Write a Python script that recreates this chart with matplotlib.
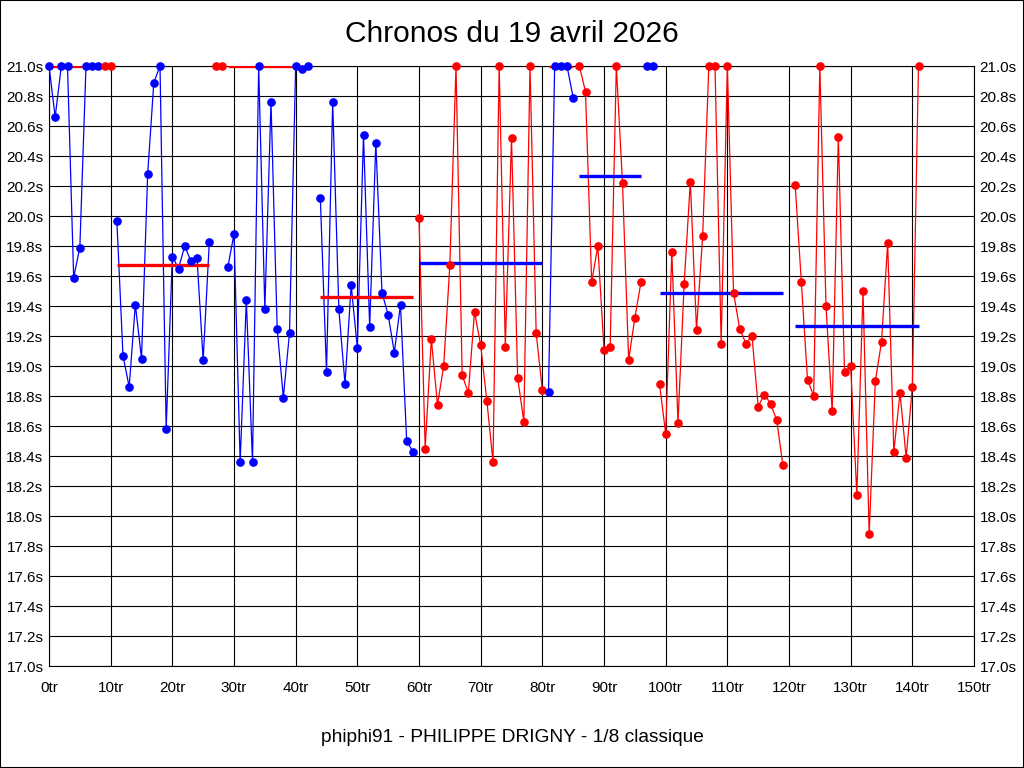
import matplotlib
matplotlib.use("Agg")
import matplotlib.pyplot as plt
from matplotlib.patches import Rectangle

plt.rcParams['font.family'] = ['Liberation Sans', 'DejaVu Sans']

title = "Chronos du 19 avril 2026"
footer = "phiphi91 - PHILIPPE DRIGNY - 1/8 classique"

# lap times in seconds, index = lap number (None = no time); 21.0 = capped
times = [
    21.0, 20.66, 21.0, 21.0, 19.59, 19.79, 21.0, 21.0, 21.0, 21.0,
    21.0, 19.97, 19.07, 18.86, 19.41, 19.05, 20.28, 20.89, 21.0, 18.58,
    19.73, 19.65, 19.80, 19.70, 19.72, 19.04, 19.83, 21.0, 21.0, 19.66,
    19.88, 18.36, 19.44, 18.36, 21.0, 19.38, 20.76, 19.25, 18.79, 19.22,
    21.0, 20.98, 21.0, None, 20.12, 18.96, 20.76, 19.38, 18.88, 19.54,
    19.12, 20.54, 19.26, 20.49, 19.49, 19.34, 19.09, 19.41, 18.50, 18.43,
    19.99, 18.45, 19.18, 18.74, 19.00, 19.67, 21.0, 18.94, 18.82, 19.36,
    19.14, 18.77, 18.36, 21.0, 19.13, 20.52, 18.92, 18.63, 21.0, 19.22,
    18.84, 18.83, 21.0, 21.0, 21.0, 20.79, 21.0, 20.83, 19.56, 19.80,
    19.11, 19.13, 21.0, 20.22, 19.04, 19.32, 19.56, 21.0, 21.0, 18.88,
    18.55, 19.76, 18.62, 19.55, 20.23, 19.24, 19.87, 21.0, 21.0, 19.15,
    21.0, 19.49, 19.25, 19.15, 19.20, 18.73, 18.81, 18.75, 18.64, 18.34,
    None, 20.21, 19.56, 18.91, 18.80, 21.0, 19.40, 18.70, 20.53, 18.96,
    19.00, 18.14, 19.50, 17.88, 18.90, 19.16, 19.82, 18.43, 18.82, 18.39,
    18.86, 21.0,
]

# runs (first lap, last lap), colour and mean time
seg_start = [0, 9, 11, 27, 29, 44, 60, 81, 86, 97, 99, 121]
seg_end = [8, 10, 26, 28, 42, 59, 80, 85, 96, 98, 119, 141]
seg_color = ['blue', 'red', 'blue', 'red', 'blue', 'blue',
             'red', 'blue', 'red', 'blue', 'red', 'red']
seg_avg = [21.0, 21.0, 19.67, 21.0, 21.0, 19.46,
           19.69, 21.0, 20.27, 21.0, 19.49, 19.27]

fig = plt.figure(figsize=(10.24, 7.68), dpi=100)
fig.patch.set_facecolor('white')
ax = fig.add_axes([49/1024, 1 - 666/768, 925/1024, 600/768])

for s, e, c, m in zip(seg_start, seg_end, seg_color, seg_avg):
    laps = list(range(s, e + 1))
    vals = [times[i] for i in laps]
    other = 'red' if c == 'blue' else 'blue'
    ax.plot(laps, vals, color=c, lw=0.9, zorder=3, clip_on=False)
    ax.hlines(m, s, e, color=other, lw=2.4, zorder=4)
    ax.plot(laps, vals, 'o', color=c, ms=5.2, zorder=5, clip_on=False)

ax.set_xlim(0, 150)
ax.set_ylim(17.0, 21.0)
xt = list(range(0, 151, 10))
yt = [17.0 + 0.2 * i for i in range(21)]
ax.set_xticks(xt)
ax.set_xticklabels([f"{v}tr" for v in xt])
ax.set_yticks(yt)
ax.set_yticklabels([f"{v:.1f}s" for v in yt])
ax.tick_params(axis='both', length=0, labelsize=11, colors='black')
ax.tick_params(axis='x', pad=11)
ax.tick_params(axis='y', pad=4, labelright=True)
ax.grid(True, color='black', lw=0.8)
ax.set_axisbelow(True)
for sp in ax.spines.values():
    sp.set_color('black')
    sp.set_linewidth(0.8)

fig.text(0.5, 1 - 34/768, title, ha='center', va='center', fontsize=21.5)
fig.text(0.5, 1 - 737/768, footer, ha='center', va='center', fontsize=13.8)
fig.patches.append(Rectangle((0, 0), 1, 1, transform=fig.transFigure,
                             fill=False, edgecolor='black', lw=1.5))

fig.savefig("out.png", dpi=100)
